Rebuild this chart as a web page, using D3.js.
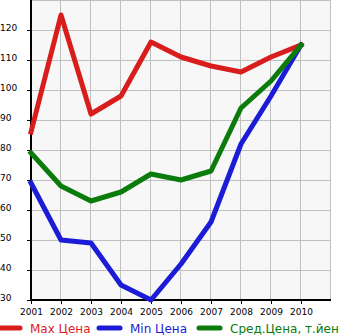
<!DOCTYPE html>
<html><head><meta charset="utf-8">
<script src="https://cdn.jsdelivr.net/npm/d3@7"></script>
<style>body{margin:0;background:#fff}svg{display:block}</style>
</head><body>
<svg id="c" width="345" height="335"></svg>
<script>
const years = [2001,2002,2003,2004,2005,2006,2007,2008,2009,2010];
const maxPrice = [86,125,92,98,116,111,108,106,111,115];
const minPrice = [69,50,49,35,30,42,56,82,98,115];
const avgPrice = [79,68,63,66,72,70,73,94,103,115];
const yTicks = [30,40,50,60,70,80,90,100,110,120];
const seriesNames = ["Max Цена","Min Цена","Сред.Цена, т.йен"];
const colors = ["#d91c1c","#1c1cd6","#0b7b0b"];

const svg = d3.select("#c");
const x = d3.scaleLinear().domain([2001,2011]).range([31,331]);
const y = d3.scaleLinear().domain([30,130]).range([300,0]);
const font = "DejaVu Sans";

svg.append("rect").attr("x",x(2001)).attr("y",y(130)).attr("width",x(2011)-x(2001)).attr("height",y(30)-y(130)).attr("fill","#f7f7f7");
const grid = svg.append("g").attr("stroke","#c0c0c0").attr("stroke-width",1);
d3.range(2002,2012).forEach(v=>grid.append("line").attr("x1",x(v)-0.5).attr("x2",x(v)-0.5).attr("y1",y(130)).attr("y2",y(30)));
d3.range(40,140,10).forEach(v=>grid.append("line").attr("x1",x(2001)).attr("x2",x(2011)).attr("y1",y(v)+0.5).attr("y2",y(v)+0.5));

// axes
const ya = svg.append("g").attr("transform",`translate(${x(2001)},0)`)
  .call(d3.axisLeft(y).tickValues(yTicks).tickSize(4).tickFormat(d3.format("d")));
ya.select(".domain").remove();
ya.selectAll("text").attr("x",-31).attr("text-anchor","start").attr("dy","0").attr("y",0)
  .attr("font-family",font).attr("font-size",9).attr("fill","#000");
ya.selectAll(".tick line").attr("stroke","#000");
const xa = svg.append("g").attr("transform",`translate(0,${y(30)})`)
  .call(d3.axisBottom(x).tickValues(years).tickSize(4).tickFormat(d3.format("d")));
xa.select(".domain").remove();
xa.selectAll("text").attr("font-family",font).attr("font-size",9).attr("fill","#000").attr("y",9);
xa.selectAll(".tick line").attr("stroke","#000");
svg.append("line").attr("x1",x(2001)).attr("x2",x(2001)).attr("y1",y(130)).attr("y2",y(30)+1).attr("stroke","#000").attr("stroke-width",2);
svg.append("line").attr("x1",x(2001)-1).attr("x2",x(2011)).attr("y1",y(30)).attr("y2",y(30)).attr("stroke","#000").attr("stroke-width",2);

const line = d3.line().x((d,i)=>x(years[i])).y(d=>y(d));
[maxPrice,minPrice,avgPrice].forEach((s,k)=>{
  svg.append("path").attr("d",line(s)).attr("fill","none").attr("stroke",colors[k])
    .attr("stroke-width",5).attr("stroke-linejoin","round").attr("stroke-linecap","square");
});

// legend
const lx = [0,100,200];
seriesNames.forEach((n,k)=>{
  svg.append("line").attr("x1",lx[k]-1).attr("x2",lx[k]+20).attr("y1",328).attr("y2",328)
    .attr("stroke",colors[k]).attr("stroke-width",5).attr("stroke-linecap","round");
  svg.append("text").attr("x",lx[k]+30).attr("y",333).attr("font-family",font).attr("font-size",12)
    .attr("fill",colors[k]).text(n);
});
</script>
</body></html>
